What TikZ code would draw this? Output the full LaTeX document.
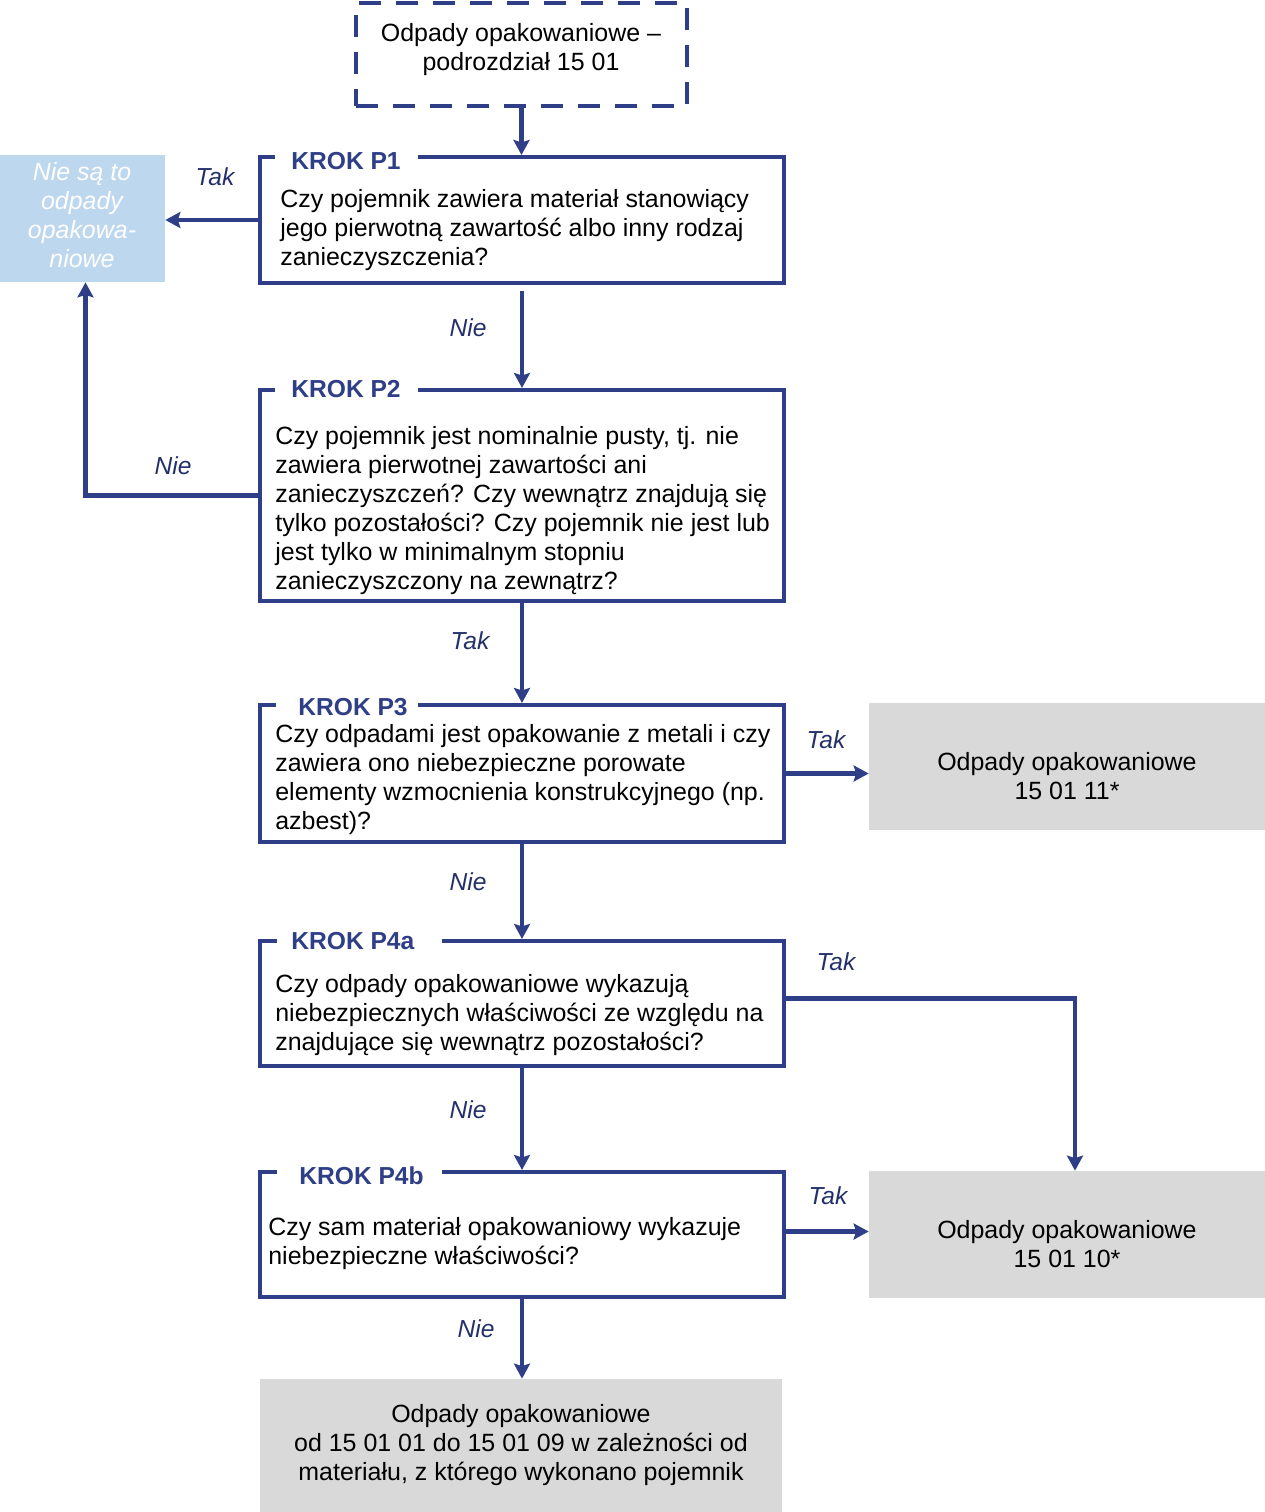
\documentclass[tikz,border=0pt]{standalone}
\usepackage{fontspec}
\setmainfont{Liberation Sans}
\usetikzlibrary{arrows.meta,fit}
\definecolor{dblue}{RGB}{46,62,135}
\definecolor{lblue}{RGB}{35,48,105}
\definecolor{lbfill}{RGB}{189,215,238}
\definecolor{gfill}{RGB}{217,217,217}
\tikzset{
  boxline/.style={draw=dblue, line width=2.3pt},
  stepbox/.style={boxline, fit={#1}, inner sep=0pt},
  greybox/.style={fill=gfill, fit={#1}, inner sep=0pt},
  body/.style={font=\fontsize{14.2}{16.5}\selectfont, text=black, inner sep=0pt, align=left, anchor=west},
  cbody/.style={font=\fontsize{14.2}{16.5}\selectfont, text=black, inner sep=0pt, align=center},
  title/.style={font=\fontsize{14}{16.5}\selectfont\bfseries, text=dblue, inner sep=0pt, anchor=west},
  lab/.style={font=\fontsize{14}{16.5}\selectfont\itshape, text=lblue, inner sep=0pt},
  arr/.style={draw=dblue, line width=2.7pt, -{Stealth[length=0.3cm,width=0.32cm,inset=0.05cm]}},
}
\begin{document}
\begin{tikzpicture}[x=0.02cm,y=-0.02cm]
\useasboundingbox (0,0) rectangle (1265,1512);
% start box
\node[draw=dblue, line width=2.8pt, dash pattern=on 0.44cm off 0.3cm, fit={(356,3)(687,106)}, inner sep=0pt] (top) {};
\node[cbody] (toptxt) at (521,50) {Odpady opakowaniowe --\\podrozdział 15 01};
% light blue
\node[fill=lbfill, fit={(0,155)(165,282)}, inner sep=0pt] (lb) {};
\node[cbody, text=white, font=\fontsize{14.2}{16.5}\selectfont\itshape] (lbtxt) at (82,215) {Nie są to\\odpady\\opakowa-\\niowe};
% step boxes
\node[stepbox={(260,157)(784,283)}] (p1) {};
\node[stepbox={(260,390)(784,601)}] (p2) {};
\node[stepbox={(260,705)(784,842)}] (p3) {};
\node[stepbox={(260,941)(784,1066)}] (p4a) {};
\node[stepbox={(260,1172)(784,1297)}] (p4b) {};
% titles
\fill[white] (275,150) rectangle (418,165);
\node[title] (t1) at (291,161) {KROK P1};
\fill[white] (275,383) rectangle (418,398);
\node[title] (t2) at (291,389) {KROK P2};
\fill[white] (276,698) rectangle (418,713);
\node[title] (t3) at (298,707) {KROK P3};
\fill[white] (277,934) rectangle (442,949);
\node[title] (t4) at (291,941) {KROK P4a};
\fill[white] (277,1165) rectangle (442,1180);
\node[title] (t5) at (299,1176) {KROK P4b};
% body texts
\node[body] (b1) at (280,230) {Czy pojemnik zawiera materiał stanowiący\\jego pierwotną zawartość albo inny rodzaj\\zanieczyszczenia?};
\node[body] (b2) at (275,511) {Czy pojemnik jest nominalnie pusty, tj. nie\\zawiera pierwotnej zawartości ani\\zanieczyszczeń? Czy wewnątrz znajdują się\\tylko pozostałości? Czy pojemnik nie jest lub\\jest tylko w minimalnym stopniu\\zanieczyszczony na zewnątrz?};
\node[body] (b3) at (275,780) {Czy odpadami jest opakowanie z metali i czy\\zawiera ono niebezpieczne porowate\\elementy wzmocnienia konstrukcyjnego (np.\\azbest)?};
\node[body] (b4) at (275,1015) {Czy odpady opakowaniowe wykazują\\niebezpiecznych właściwości ze względu na\\znajdujące się wewnątrz pozostałości?};
\node[body] (b5) at (268,1244) {Czy sam materiał opakowaniowy wykazuje\\niebezpieczne właściwości?};
% grey result boxes
\node[greybox={(869,703)(1265,830)}] (g1) {};
\node[cbody] (g1t) at (1067,776) {Odpady opakowaniowe\\15 01 11*};
\node[greybox={(869,1171)(1265,1298)}] (g2) {};
\node[cbody] (g2t) at (1067,1244) {Odpady opakowaniowe\\15 01 10*};
\node[greybox={(260,1379)(782,1512)}] (bot) {};
\node[cbody] (bott) at (521,1445) {Odpady opakowaniowe\\od 15 01 01 do 15 01 09 w zależności od\\materiału, z którego wykonano pojemnik};
% connectors
\draw[arr] (top.south) -- (top.south |- p1.north);
\draw[arr] (p1.west) -- (p1.west -| lb.east);
\draw[arr] ([yshift=-0.12cm]p1.south) -- (p2.north);
\draw[arr] (p2.west) -| ([xshift=0.06cm]lb.south);
\draw[arr] (p2.south) -- (p3.north);
\draw[arr] (p3.east) -- (p3.east -| g1.west);
\draw[arr] (p3.south) -- (p4a.north);
\draw[arr] ([yshift=0.1cm]p4a.east) -| ([xshift=0.16cm]g2.north);
\draw[arr] (p4a.south) -- (p4b.north);
\draw[arr] ([yshift=0.06cm]p4b.east) -- ([yshift=0.06cm]g2.west);
\draw[arr] (p4b.south) -- (p4b.south |- bot.north);
% labels
\node[lab] (l1) at (215,177) {Tak};
\node[lab] (l2) at (468,328) {Nie};
\node[lab] (l3) at (173,466) {Nie};
\node[lab] (l4) at (470,641) {Tak};
\node[lab] (l5) at (826,740) {Tak};
\node[lab] (l6) at (468,882) {Nie};
\node[lab] (l7) at (836,962) {Tak};
\node[lab] (l8) at (468,1110) {Nie};
\node[lab] (l9) at (828,1196) {Tak};
\node[lab] (l10) at (476,1329) {Nie};
\end{tikzpicture}
\end{document}
